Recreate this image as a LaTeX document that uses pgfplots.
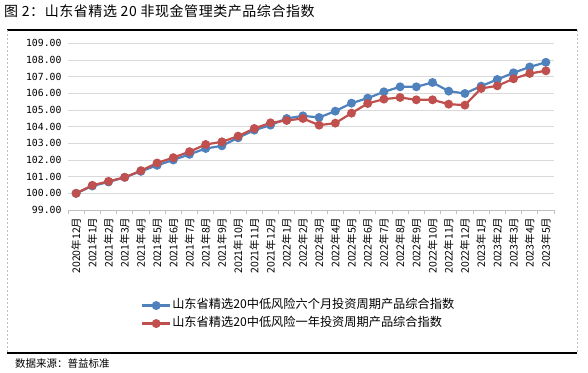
\documentclass[border=0pt]{standalone}
\usepackage{pgfplots}
\pgfplotsset{compat=1.18}
\usepackage{pgfplotstable}
\usepackage{fontspec}
\setmainfont{Noto Sans CJK SC}
\newfontfamily\monofont{DejaVu Sans Mono}
\newfontfamily\titlefont[LetterSpace=4]{Noto Sans CJK SC}
\definecolor{sixblue}{HTML}{4F81BD}
\definecolor{onered}{HTML}{C0504D}
\definecolor{gridgray}{HTML}{D9D9D9}
\definecolor{axgray}{HTML}{BFBFBF}

\pgfplotstableread{
x six one
0 100.00 100.00
1 100.44 100.48
2 100.68 100.72
3 100.96 100.96
4 101.32 101.36
5 101.68 101.82
6 102.00 102.14
7 102.34 102.50
8 102.69 102.93
9 102.85 103.09
10 103.33 103.43
11 103.79 103.89
12 104.09 104.23
13 104.49 104.37
14 104.65 104.49
15 104.55 104.09
16 104.93 104.21
17 105.41 104.81
18 105.71 105.39
19 106.09 105.65
20 106.39 105.75
21 106.39 105.61
22 106.65 105.61
23 106.13 105.35
24 105.99 105.29
25 106.43 106.29
26 106.83 106.45
27 107.23 106.87
28 107.58 107.19
29 107.86 107.35
}\datatable

\begin{document}
\begin{tikzpicture}
\useasboundingbox (0,0) rectangle (588pt,372pt);
% frame
\node[anchor=west, inner sep=0pt, font=\titlefont\fontsize{14}{16}\selectfont] at (4pt,361pt) {图 2：山东省精选 20 非现金管理类产品综合指数};
\draw[black, line width=1.3pt] (7pt,342pt) -- (577pt,342pt);
\draw[black, line width=1.3pt] (7pt,19pt) -- (577pt,19pt);
\draw[gray!50, line width=0.6pt, dash pattern=on 2pt off 2pt] (7.5pt,342pt) -- (7.5pt,19pt);
\draw[gray!50, line width=0.6pt, dash pattern=on 2pt off 2pt] (577pt,342pt) -- (577pt,19pt);
\node[anchor=west, inner sep=0pt, font=\fontsize{10.5}{12}\selectfont] at (15pt,8pt) {数据来源：普益标准};

\begin{axis}[
  at={(68pt,162pt)}, anchor=south west,
  width=486pt, height=166.7pt, scale only axis,
  xmin=-0.5, xmax=29.5, ymin=99, ymax=109,
  enlargelimits=false,
  axis x line*=bottom, axis y line*=left,
  x axis line style={draw=axgray, line width=0.8pt},
  y axis line style={draw=none},
  ytick={99,100,...,109},
  ymajorgrids, grid style={gridgray, line width=0.8pt},
  major tick length=0pt,
  xtick={0,...,29},
  minor xtick={-0.5,0.5,...,29.5},
  minor tick length=4pt,
  minor x tick style={draw=axgray, line width=0.8pt},
  xtick align=outside,
  xticklabels={2020年12月,2021年1月,2021年2月,2021年3月,2021年4月,2021年5月,2021年6月,2021年7月,2021年8月,2021年9月,2021年10月,2021年11月,2021年12月,2022年1月,2022年2月,2022年3月,2022年4月,2022年5月,2022年6月,2022年7月,2022年8月,2022年9月,2022年10月,2022年11月,2022年12月,2023年1月,2023年2月,2023年3月,2023年4月,2023年5月},
  xticklabel style={rotate=90, anchor=east, font=\fontsize{10.5}{12}\selectfont},
  xticklabel shift=4pt,
  yticklabel style={font=\monofont\fontsize{9.8}{12}\selectfont, /pgf/number format/.cd, fixed, fixed zerofill, precision=2, assume math mode=true},
  yticklabel shift=3pt,
  legend style={at={(axis description cs:0.150,-0.53)}, anchor=north west,
    draw=none, fill=none, inner sep=0pt, row sep=4pt,
    font=\fontsize{12.2}{14}\selectfont,
    nodes={inner sep=1pt, text height=9pt, text depth=3pt}},
  legend cell align=left,
  legend image code/.code={\draw[mark repeat=2,mark phase=2] plot coordinates {(0pt,0pt)(14pt,0pt)(28pt,0pt)};},
]
\addplot[sixblue, line width=2.2pt, mark=*, mark size=3.3pt, mark options={solid}] table[x=x,y=six] {\datatable};
\addlegendentry{山东省精选20中低风险六个月投资周期产品综合指数}
\addplot[onered, line width=2.2pt, mark=*, mark size=3.3pt, mark options={solid}] table[x=x,y=one] {\datatable};
\addlegendentry{山东省精选20中低风险一年投资周期产品综合指数}
\end{axis}
\end{tikzpicture}
\end{document}
